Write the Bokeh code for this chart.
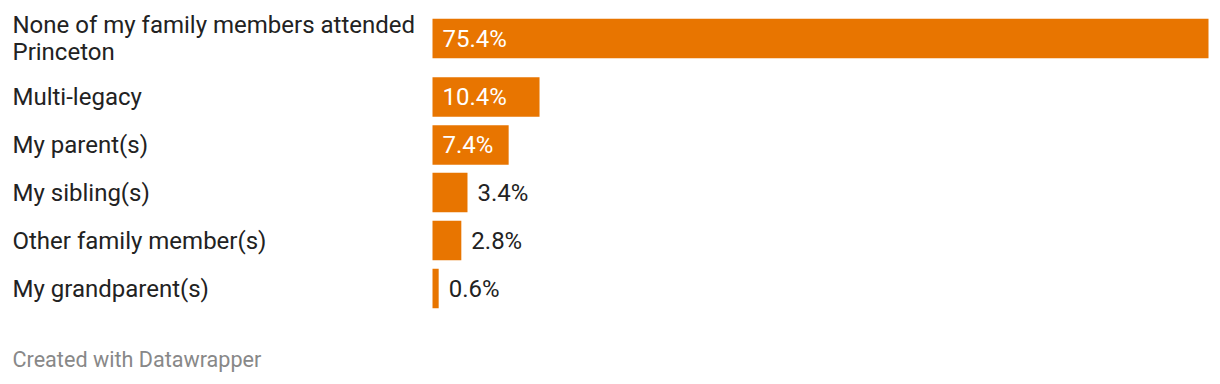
from bokeh.plotting import figure
from bokeh.models import Range1d, ColumnDataSource
from bokeh.core.properties import value
from bokeh.embed import file_html
from bokeh.resources import INLINE

categories = ["None of my family members attended\nPrinceton", "Multi-legacy", "My parent(s)",
              "My sibling(s)", "Other family member(s)", "My grandparent(s)"]
values = [75.4, 10.4, 7.4, 3.4, 2.8, 0.6]
value_labels = ["75.4%", "10.4%", "7.4%", "3.4%", "2.8%", "0.6%"]

W, H = 1220, 384
bar_x0 = 432
bar_max_px = 776
k = bar_max_px / max(values)

# row centres in pixel units (layout)
row_y = [38, 96.5, 144.5, 192, 240, 288]
bar_h = 39.5
FS = "24px"

p = figure(width=W, height=H, output_backend="svg", toolbar_location=None,
           x_range=Range1d(-bar_x0 / k, (W - bar_x0) / k), y_range=Range1d(H, 0),
           min_border=0, outline_line_color=None)
p.axis.visible = False
p.grid.visible = False
p.background_fill_color = "white"
p.border_fill_color = "white"

src = ColumnDataSource(dict(y=row_y, v=values, cat=categories, lab=value_labels))
p.hbar(y="y", left=0, right="v", height=bar_h, source=src, color="#e87500", line_color=None)

# category labels
for c, y in zip(categories, row_y):
    lines = c.split("\n")
    lh = 27
    y0 = y - (len(lines) - 1) * lh / 2
    for j, ln in enumerate(lines):
        p.text(x=[-bar_x0 / k + 12 / k], y=[y0 + j * lh], text=[ln], text_font=value("Roboto"),
               text_font_size=FS, text_color="#222222", text_baseline="middle", text_align="left")

# value labels
inside = [v * k > 60 for v in values]
ix = [10 / k for v, i in zip(values, inside) if i]
iy = [y for y, i in zip(row_y, inside) if i]
il = [l for l, i in zip(value_labels, inside) if i]
ox = [v + 10 / k for v, i in zip(values, inside) if not i]
oy = [y for y, i in zip(row_y, inside) if not i]
ol = [l for l, i in zip(value_labels, inside) if not i]
p.text(x=ix, y=iy, text=il, text_font=value("Roboto"), text_font_size=FS,
       text_color="white", text_baseline="middle", text_align="left")
p.text(x=ox, y=oy, text=ol, text_font=value("Roboto"), text_font_size=FS,
       text_color="#222222", text_baseline="middle", text_align="left")

p.text(x=[-bar_x0 / k + 12 / k], y=[359], text=["Created with Datawrapper"], text_font=value("Roboto"),
       text_font_size="21.6px", text_color="#888888", text_baseline="middle", text_align="left")

open("out.html", "w").write(file_html(p, INLINE))
